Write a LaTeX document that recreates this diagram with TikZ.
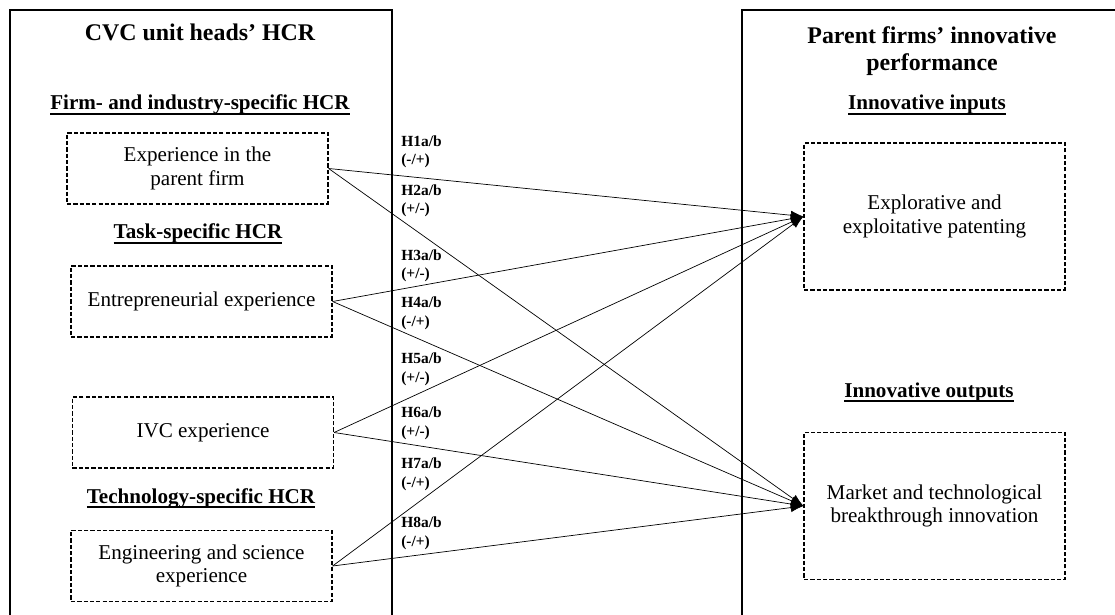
\documentclass[tikz,border=0pt]{standalone}
\usepackage{fontspec}
\setmainfont{Liberation Serif}
\usetikzlibrary{arrows.meta}

% underlined sub-heading
\newcommand{\ulhead}[1]{\setbox0\hbox{#1}\rlap{\rule[-3.6pt]{\wd0}{1.2pt}}\box0}

\begin{document}
\begin{tikzpicture}[x=0.025cm,y=-0.025cm,>={Latex[length=9pt,width=6.5pt]},
  title/.style={font=\fontsize{17}{19}\selectfont\bfseries,align=center,inner sep=0},
  subhead/.style={font=\fontsize{15}{17}\selectfont\bfseries,inner sep=0,anchor=base},
  var/.style={draw,dashed,dash pattern=on 3pt off 1.5pt,line width=0.8pt,
    font=\fontsize{15}{16.5}\selectfont,align=center,
    minimum width=6.525cm,minimum height=1.775cm},
  outvar/.style={var,minimum height=3.675cm},
  hyp/.style={font=\fontsize{11}{13.2}\selectfont\bfseries,align=left,inner sep=0,anchor=west},
  link/.style={->,line width=0.5pt}]
  \useasboundingbox (0,0) rectangle (1115,615);
  %
  % Frames (open at the bottom and on the right)
  \draw[line width=1pt] (10,620) -- (10,10) -- (392,10) -- (392,620);
  \draw[line width=1pt] (742,620) -- (742,10) -- (1120,10);
  %
  % Left side: HCR of the CVC unit heads
  \node[title,anchor=base] (lefthead) at (200,41) {CVC unit heads' HCR};
  \node[subhead] (firmhcr) at (200,110) {\ulhead{Firm- and industry-specific HCR}};
  \node[var] (parentexp) at (197.5,168.5) {Experience in the\\parent firm};
  \node[subhead] (taskhcr) at (198,239) {\ulhead{Task-specific HCR}};
  \node[var] (entrexp) at (201.5,301.5) {Entrepreneurial experience};
  \node[var] (ivcexp) at (203,432.5) {IVC experience};
  \node[subhead] (techhcr) at (201,503) {\ulhead{Technology-specific HCR}};
  \node[var] (engexp) at (201.5,566) {Engineering and science\\experience};
  %
  % Right side: innovative performance
  \node[title] (righthead) at (932,51) {Parent firms' innovative\\performance};
  \node[subhead] (inputs) at (927,110) {\ulhead{Innovative inputs}};
  \node[outvar] (patent) at (934.5,216.5) {Explorative and\\exploitative patenting};
  \node[subhead] (outputs) at (929,397) {\ulhead{Innovative outputs}};
  \node[outvar] (breakthrough) at (934.5,506) {Market and technological\\breakthrough innovation};
  %
  % Hypotheses
  \foreach \src in {parentexp,entrexp,ivcexp,engexp}
    \foreach \dst in {patent,breakthrough}
      \draw[link] (\src.east) -- (\dst.west);
  \foreach \k/\sgn/\y in {1/{(-/+)}/152,2/{(+/-)}/201,3/{(+/-)}/266,4/{(-/+)}/313,
                          5/{(+/-)}/369,6/{(+/-)}/423,7/{(-/+)}/474,8/{(-/+)}/533}
    \node[hyp] (hyp\k) at (401,\y) {H\k a/b\\\sgn};
  %
\end{tikzpicture}
\end{document}
